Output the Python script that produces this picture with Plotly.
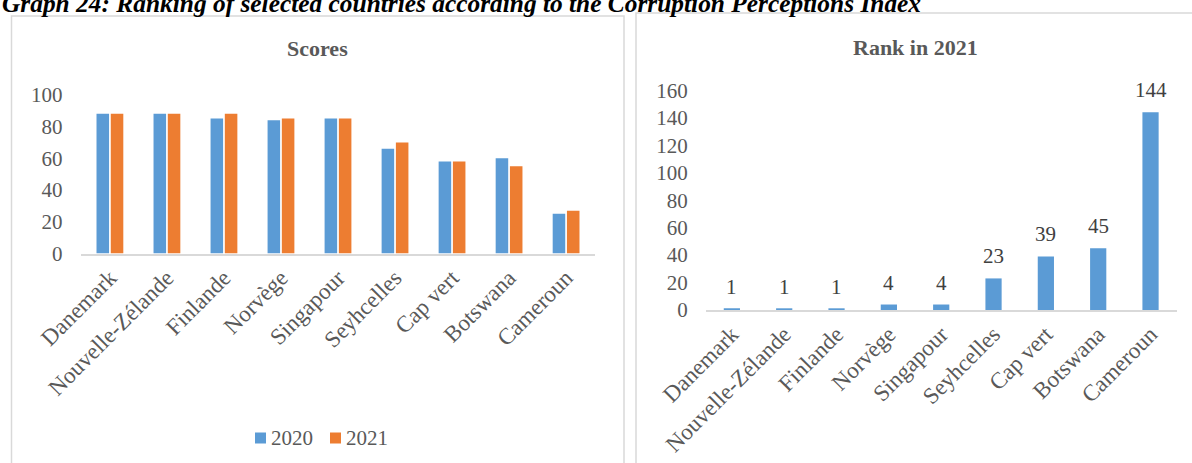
import plotly.graph_objects as go

# Corruption Perceptions Index: scores 2020/2021 and rank in 2021
countries = ["Danemark", "Nouvelle-Zélande", "Finlande", "Norvège", "Singapour",
             "Seyhcelles", "Cap vert", "Botswana", "Cameroun"]
scores_2020 = [88, 88, 85, 84, 85, 66, 58, 60, 25]
scores_2021 = [88, 88, 88, 85, 85, 70, 58, 55, 27]
rank_2021 = [1, 1, 1, 4, 4, 23, 39, 45, 144]
series_names = ["2020", "2021"]

score_ticks = [0, 20, 40, 60, 80, 100]
rank_ticks = [0, 20, 40, 60, 80, 100, 120, 140, 160]

W, H = 1192, 463
FONT = "Liberation Serif"
GREY = "#595959"
BLUE = "#5B9BD5"
ORANGE = "#ED7D31"
FRAME = "#D9D9D9"
series_colors = [BLUE, ORANGE]


def px_x(v):
    return v / W


def px_y(v):
    return 1 - v / H


fig = go.Figure()

for name, vals, col in zip(series_names, [scores_2020, scores_2021], series_colors):
    fig.add_trace(go.Bar(x=countries, y=vals, name=name, marker_color=col,
                         marker_line_width=0, xaxis="x", yaxis="y"))
fig.add_trace(go.Bar(x=countries, y=rank_2021, name="Rank in 2021", marker_color=BLUE,
                     marker_line_width=0, width=0.31,
                     xaxis="x2", yaxis="y2"))

axis_common = dict(showgrid=False, zeroline=False, automargin=False, ticks="")
xfont = dict(family=FONT, size=23, color=GREY)
yfont = dict(family=FONT, size=21, color=GREY)

fig.update_layout(
    width=W, height=H, autosize=False,
    margin=dict(l=0, r=0, t=0, b=0),
    paper_bgcolor="white", plot_bgcolor="white",
    barmode="group", bargap=0.5, bargroupgap=0.12,
    font=dict(family=FONT, color=GREY),
    showlegend=False,
    xaxis=dict(domain=[px_x(81.4), px_x(594.6)], anchor="y", tickangle=-45,
               showline=True, linecolor=FRAME, linewidth=1.5, tickfont=xfont,
               **axis_common),
    yaxis=dict(domain=[px_y(253.5), px_y(94.8)], anchor="x", range=[0, 100],
               tickvals=score_ticks, showline=False, tickfont=yfont,
               ticklabelstandoff=18, **axis_common),
    xaxis2=dict(domain=[px_x(705.7), px_x(1176.7)], anchor="y2", tickangle=-45,
                showline=True, linecolor=FRAME, linewidth=1.5, tickfont=xfont,
                **axis_common),
    yaxis2=dict(domain=[px_y(310), px_y(90.3)], anchor="x2", range=[0, 160],
                tickvals=rank_ticks, showline=False, tickfont=yfont,
                ticklabelstandoff=17, **axis_common),
)

# Chart frames
fig.add_shape(type="rect", xref="paper", yref="paper",
              x0=px_x(11.5), x1=px_x(624), y0=px_y(475), y1=px_y(16),
              line=dict(color=FRAME, width=1.5), fillcolor="rgba(0,0,0,0)")
fig.add_shape(type="rect", xref="paper", yref="paper",
              x0=px_x(636), x1=px_x(1205), y0=px_y(475), y1=px_y(13),
              line=dict(color=FRAME, width=1.5), fillcolor="rgba(0,0,0,0)")

# Legend of the score chart: colour key followed by the series name
legend_y = 438
legend_x0 = 255
for i, (name, col) in enumerate(zip(series_names, series_colors)):
    left = legend_x0 + i * 75
    fig.add_shape(type="rect", xref="paper", yref="paper",
                  x0=px_x(left), x1=px_x(left + 11),
                  y0=px_y(legend_y + 5.5), y1=px_y(legend_y - 5.5),
                  line=dict(width=0), fillcolor=col)
    fig.add_annotation(text=name, xref="paper", yref="paper",
                       x=px_x(left + 14), y=px_y(legend_y),
                       xanchor="left", yanchor="middle", showarrow=False,
                       font=dict(family=FONT, size=21, color=GREY))

# Titles
fig.add_annotation(text="<b><i>Graph 24: Ranking of selected countries according to the Corruption Perceptions Index</i></b>",
                   xref="paper", yref="paper", x=px_x(0), y=px_y(3),
                   xanchor="left", yanchor="middle", showarrow=False,
                   font=dict(family=FONT, size=25.4, color="black"))
fig.add_annotation(text="<b>Scores</b>", xref="paper", yref="paper",
                   x=px_x(317), y=px_y(49), xanchor="center", yanchor="middle",
                   showarrow=False, font=dict(family=FONT, size=22, color=GREY))
fig.add_annotation(text="<b>Rank in 2021</b>", xref="paper", yref="paper",
                   x=px_x(915), y=px_y(48), xanchor="center", yanchor="middle",
                   showarrow=False, font=dict(family=FONT, size=22, color=GREY))

# Value labels above the rank bars
for c, r in zip(countries, rank_2021):
    fig.add_annotation(x=c, y=r, xref="x2", yref="y2", text=str(r),
                       showarrow=False, yanchor="bottom", yshift=8,
                       font=dict(family=FONT, size=21, color="#404040"))

fig.write_html("out.html")
